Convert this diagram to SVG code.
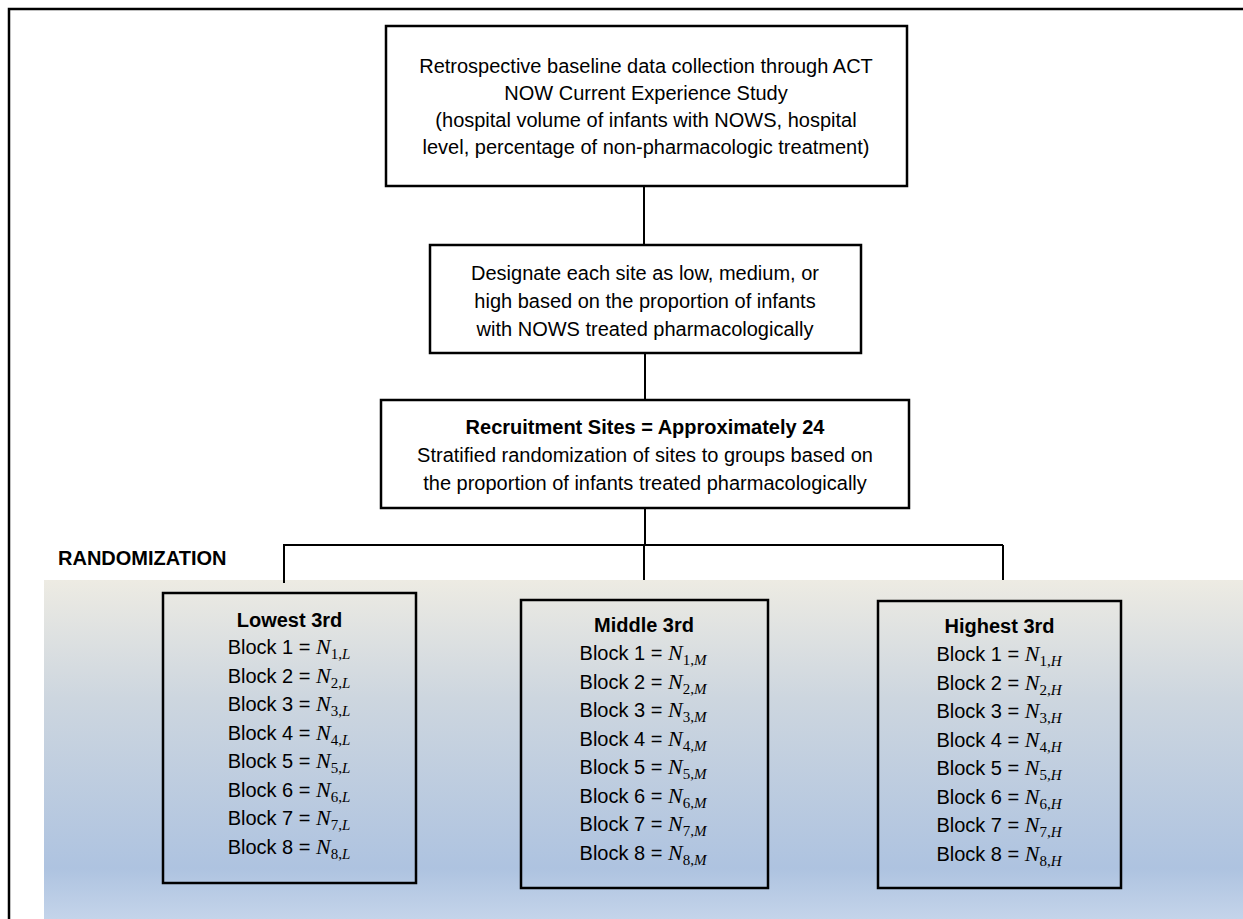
<svg xmlns="http://www.w3.org/2000/svg" width="1243" height="919" viewBox="0 0 1243 919">
  <defs>
    <linearGradient id="band" gradientUnits="userSpaceOnUse" x1="0" y1="580" x2="0" y2="919">
      <stop offset="0" stop-color="#EDEBE3"/>
      <stop offset="0.35" stop-color="#CDD6DF"/>
      <stop offset="0.85" stop-color="#AEC3E0"/>
      <stop offset="1" stop-color="#C4D4EA"/>
    </linearGradient>
    <style>
      .box { fill: #FFFFFF; stroke: #000; stroke-width: 2.5; }
      .gbox { fill: none; stroke: #000; stroke-width: 2.5; }
      .conn { fill: none; stroke: #000; stroke-width: 2; }
      text { font-family: "Liberation Sans", Arial, sans-serif; font-size: 20px; fill: #000; }
      .c { text-anchor: middle; }
      .b { font-weight: bold; }
      .m { font-family: "Liberation Serif", "Times New Roman", serif; font-style: italic; font-size: 22px; }
      .s { font-family: "Liberation Serif", "Times New Roman", serif; font-size: 15px; }
      .si { font-family: "Liberation Serif", "Times New Roman", serif; font-style: italic; font-size: 15px; }
    </style>
  </defs>

  <!-- outer frame -->
  <path d="M9,919 V9 H1243" fill="none" stroke="#000" stroke-width="2.5"/>

  <!-- gradient band -->
  <rect x="44" y="580" width="1199" height="339" fill="url(#band)"/>

  <text class="b" x="58" y="565" font-size="19.5">RANDOMIZATION</text>

  <g id="connectors">
    <line class="conn" x1="644" y1="186" x2="644" y2="245"/>
    <line class="conn" x1="645" y1="353" x2="645" y2="400"/>
    <line class="conn" x1="645" y1="508" x2="645" y2="545"/>
    <line class="conn" x1="284" y1="545" x2="1003" y2="545"/>
    <line class="conn" x1="284" y1="544" x2="284" y2="583"/>
    <line class="conn" x1="644" y1="545" x2="644" y2="580"/>
    <line class="conn" x1="1003" y1="545" x2="1003" y2="580"/>
  </g>

  <g id="baseline">
    <rect class="box" x="386" y="26" width="521" height="160"/>
    <text class="c" x="646" y="73">Retrospective baseline data collection through ACT</text>
    <text class="c" x="646" y="100">NOW Current Experience Study</text>
    <text class="c" x="646" y="127">(hospital volume of infants with NOWS, hospital</text>
    <text class="c" x="646" y="154">level, percentage of non-pharmacologic treatment)</text>
  </g>

  <g id="designate">
    <rect class="box" x="430" y="245" width="431" height="108"/>
    <text class="c" x="645" y="280">Designate each site as low, medium, or</text>
    <text class="c" x="645" y="308">high based on the proportion of infants</text>
    <text class="c" x="645" y="336">with NOWS treated pharmacologically</text>
  </g>

  <g id="recruitment">
    <rect class="box" x="381" y="400" width="528" height="108"/>
    <text class="c b" x="645" y="434">Recruitment Sites = Approximately 24</text>
    <text class="c" x="645" y="462">Stratified randomization of sites to groups based on</text>
    <text class="c" x="645" y="490">the proportion of infants treated pharmacologically</text>
  </g>

  <g id="lowest">
    <rect class="gbox" x="163" y="593" width="253" height="290"/>
    <text class="c b" x="289.5" y="627">Lowest 3rd</text>
    <text class="c" x="289" y="654">Block 1 = <tspan class="m">N</tspan><tspan class="s" dy="5">1,</tspan><tspan class="si">L</tspan></text>
    <text class="c" x="289" y="682.5">Block 2 = <tspan class="m">N</tspan><tspan class="s" dy="5">2,</tspan><tspan class="si">L</tspan></text>
    <text class="c" x="289" y="711">Block 3 = <tspan class="m">N</tspan><tspan class="s" dy="5">3,</tspan><tspan class="si">L</tspan></text>
    <text class="c" x="289" y="739.5">Block 4 = <tspan class="m">N</tspan><tspan class="s" dy="5">4,</tspan><tspan class="si">L</tspan></text>
    <text class="c" x="289" y="768">Block 5 = <tspan class="m">N</tspan><tspan class="s" dy="5">5,</tspan><tspan class="si">L</tspan></text>
    <text class="c" x="289" y="796.5">Block 6 = <tspan class="m">N</tspan><tspan class="s" dy="5">6,</tspan><tspan class="si">L</tspan></text>
    <text class="c" x="289" y="825">Block 7 = <tspan class="m">N</tspan><tspan class="s" dy="5">7,</tspan><tspan class="si">L</tspan></text>
    <text class="c" x="289" y="853.5">Block 8 = <tspan class="m">N</tspan><tspan class="s" dy="5">8,</tspan><tspan class="si">L</tspan></text>
  </g>

  <g id="middle">
    <rect class="gbox" x="521" y="600" width="247" height="288"/>
    <text class="c b" x="644" y="632">Middle 3rd</text>
    <text class="c" x="643" y="660">Block 1 = <tspan class="m">N</tspan><tspan class="s" dy="5">1,</tspan><tspan class="si">M</tspan></text>
    <text class="c" x="643" y="688.5">Block 2 = <tspan class="m">N</tspan><tspan class="s" dy="5">2,</tspan><tspan class="si">M</tspan></text>
    <text class="c" x="643" y="717">Block 3 = <tspan class="m">N</tspan><tspan class="s" dy="5">3,</tspan><tspan class="si">M</tspan></text>
    <text class="c" x="643" y="745.5">Block 4 = <tspan class="m">N</tspan><tspan class="s" dy="5">4,</tspan><tspan class="si">M</tspan></text>
    <text class="c" x="643" y="774">Block 5 = <tspan class="m">N</tspan><tspan class="s" dy="5">5,</tspan><tspan class="si">M</tspan></text>
    <text class="c" x="643" y="802.5">Block 6 = <tspan class="m">N</tspan><tspan class="s" dy="5">6,</tspan><tspan class="si">M</tspan></text>
    <text class="c" x="643" y="831">Block 7 = <tspan class="m">N</tspan><tspan class="s" dy="5">7,</tspan><tspan class="si">M</tspan></text>
    <text class="c" x="643" y="859.5">Block 8 = <tspan class="m">N</tspan><tspan class="s" dy="5">8,</tspan><tspan class="si">M</tspan></text>
  </g>

  <g id="highest">
    <rect class="gbox" x="878" y="601" width="243" height="287"/>
    <text class="c b" x="999.5" y="633">Highest 3rd</text>
    <text class="c" x="999" y="661">Block 1 = <tspan class="m">N</tspan><tspan class="s" dy="5">1,</tspan><tspan class="si">H</tspan></text>
    <text class="c" x="999" y="689.5">Block 2 = <tspan class="m">N</tspan><tspan class="s" dy="5">2,</tspan><tspan class="si">H</tspan></text>
    <text class="c" x="999" y="718">Block 3 = <tspan class="m">N</tspan><tspan class="s" dy="5">3,</tspan><tspan class="si">H</tspan></text>
    <text class="c" x="999" y="746.5">Block 4 = <tspan class="m">N</tspan><tspan class="s" dy="5">4,</tspan><tspan class="si">H</tspan></text>
    <text class="c" x="999" y="775">Block 5 = <tspan class="m">N</tspan><tspan class="s" dy="5">5,</tspan><tspan class="si">H</tspan></text>
    <text class="c" x="999" y="803.5">Block 6 = <tspan class="m">N</tspan><tspan class="s" dy="5">6,</tspan><tspan class="si">H</tspan></text>
    <text class="c" x="999" y="832">Block 7 = <tspan class="m">N</tspan><tspan class="s" dy="5">7,</tspan><tspan class="si">H</tspan></text>
    <text class="c" x="999" y="860.5">Block 8 = <tspan class="m">N</tspan><tspan class="s" dy="5">8,</tspan><tspan class="si">H</tspan></text>
  </g>
</svg>
